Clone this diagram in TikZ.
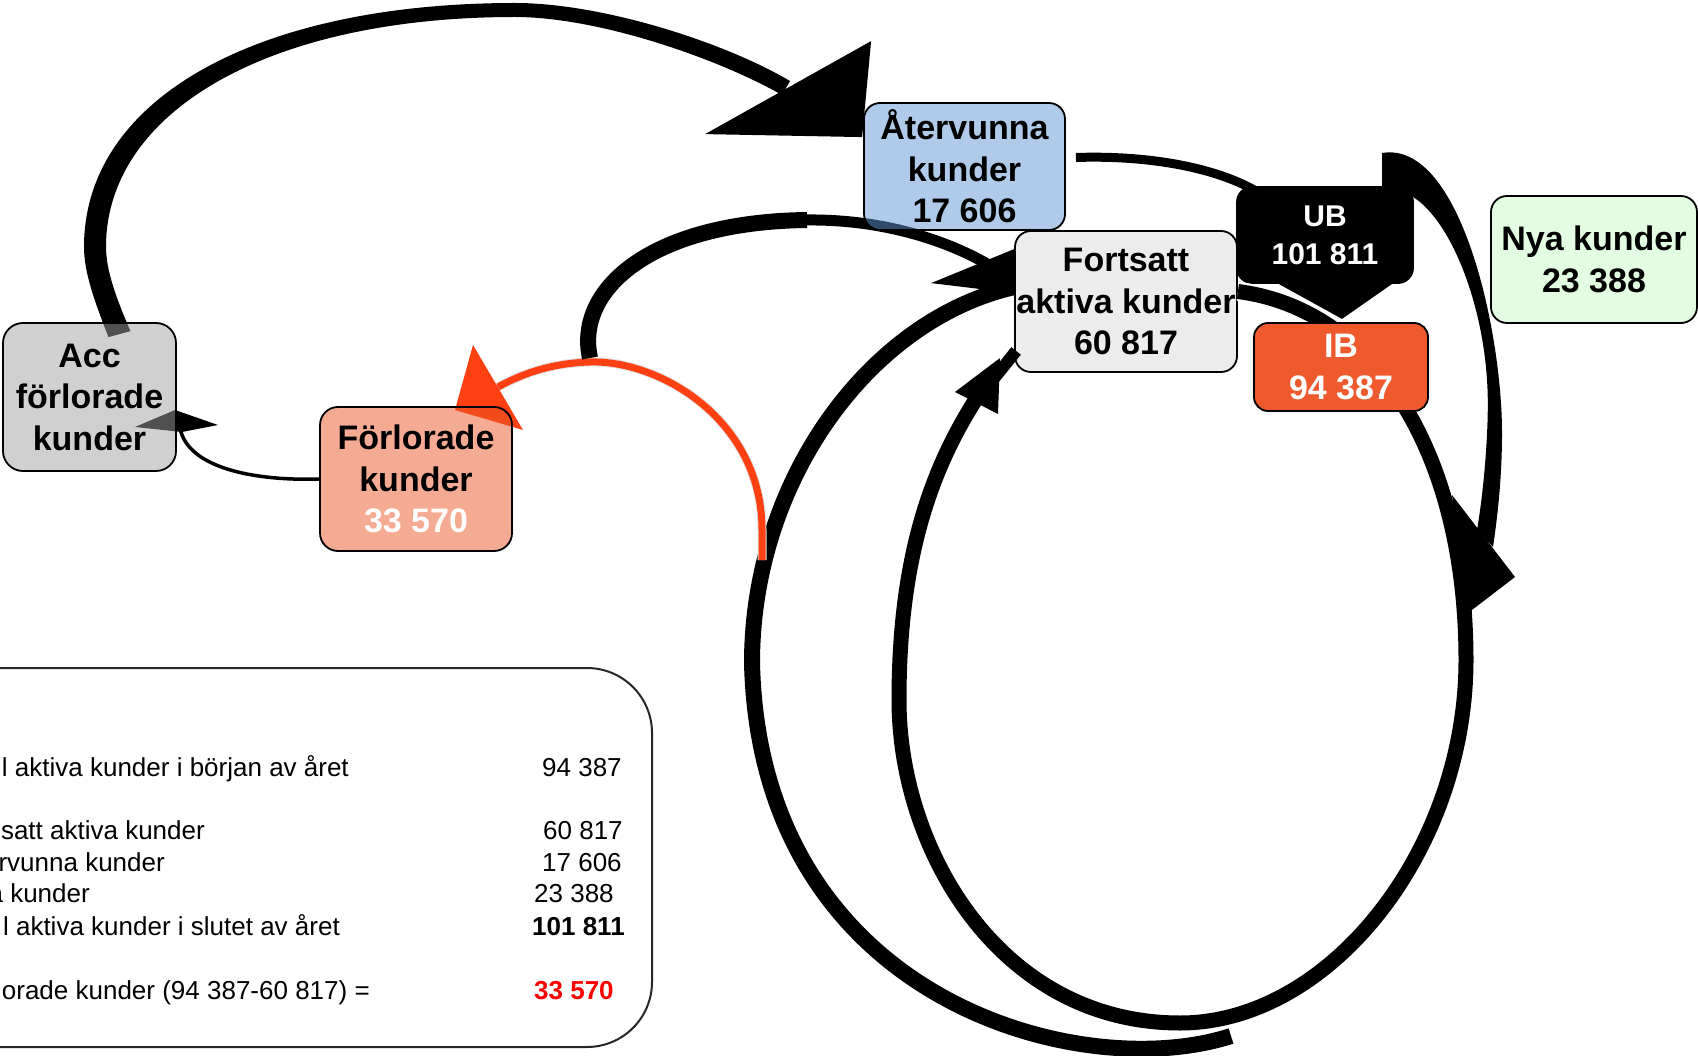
\documentclass[tikz,border=0pt]{standalone}
\usepackage{fontspec}
\setmainfont{Liberation Sans}
\usetikzlibrary{calc}
\pgfdeclarelayer{back}
\pgfsetlayers{back,main}
\definecolor{accfill}{RGB}{161,161,161}
\definecolor{aterfill}{RGB}{95,151,211}
\definecolor{forlfill}{RGB}{235,87,39}
\definecolor{fortfill}{RGB}{236,236,236}
\definecolor{ibfill}{RGB}{238,90,45}
\definecolor{nyafill}{RGB}{226,253,226}
\definecolor{redarc}{RGB}{255,64,19}
\begin{document}
\begin{tikzpicture}[x=1pt,y=-1pt,
  box/.style={draw=black, line width=1.8, rounded corners=16, inner sep=0pt, align=center,
              font=\bfseries\fontsize{34}{41.5}\selectfont},
  seethru/.style={fill opacity=0.5, text opacity=1},
  tabtxt/.style={inner sep=0pt, anchor=base east, font=\fontsize{26}{30}\selectfont},
  tabnum/.style={inner sep=0pt, anchor=base west, font=\fontsize{26}{30}\selectfont},
  tabbold/.style={tabnum, font=\bfseries\fontsize{26}{30}\selectfont},
  flow/.style={draw=black, line cap=butt, line join=round},
]
\useasboundingbox (0,0) rectangle (1698,1056);

% ---------- summary table ----------
\node[draw=black!85, line width=2, rounded corners=65, minimum width=752, minimum height=379, inner sep=0pt] (tbl) at (276,857.5) {};
\node[tabtxt] (t1) at (349,776.5) {l aktiva kunder i början av året};
\node[tabnum] (n1) at (542,776.5) {94 387};
\node[tabtxt] (t2) at (205,839.5) {satt aktiva kunder};
\node[tabnum] (n2) at (543,839.5) {60 817};
\node[tabtxt] (t3) at (165,871.5) {rvunna kunder};
\node[tabnum] (n3) at (542,871.5) {17 606};
\node[tabtxt] (t4) at (90,902.5) {a kunder};
\node[tabnum] (n4) at (534,902.5) {23 388};
\node[tabtxt] (t5) at (340,935.5) {l aktiva kunder i slutet av året};
\node[tabbold] (n5) at (532,935.5) {101 811};
\node[tabtxt] (t6) at (370,999.5) {orade kunder (94 387-60 817) =};
\node[tabbold, text=red] (n6) at (534,999.5) {33 570};

% ---------- boxes ----------
\node[box, seethru, fill=accfill, rounded corners=20, minimum width=173, minimum height=148] (acc) at (89.5,397) {Acc\\förlorade\\kunder};
\node[box, seethru, fill=forlfill, rounded corners=18, minimum width=192, minimum height=144] (forl) at (416,479) {Förlorade\\kunder\\\textcolor{white}{33 570}};
\node[box, seethru, fill=aterfill, minimum width=201, minimum height=127] (ater) at (964.5,166.5) {Återvunna\\kunder\\17 606};
\node[box, fill=fortfill, minimum width=222, minimum height=141] (fort) at (1126,301.5) {Fortsatt\\aktiva kunder\\60 817};
\node[box, fill=nyafill, minimum width=206, minimum height=127] (nya) at (1594,259.5) {Nya kunder\\23 388};
\node[box, fill=black, text=white, rounded corners=15, minimum width=176, minimum height=96,
      font=\bfseries\fontsize{30}{38}\selectfont] (ub) at (1325,235) {UB\\101 811};

% ---------- connectors behind the boxes ----------
\begin{pgfonlayer}{back}
  % Acc -> Återvunna (big tapered arc)
  \coordinate (a0) at ($(acc.north)+(30,12)$);
  \coordinate (a3) at (786,88);
  \fill ($(a0)+(-11,3)$) .. controls (94,300) and (84,272) .. (84,247)
        .. controls (84,98) and (258,3) .. (515,3)
        .. controls (602,3) and (724,42) .. ($(a3)+(4,-7)$)
        -- ($(a3)+(-4,7)$) .. controls (717,58) and (598,17) .. (515,17)
        .. controls (268,17) and (106,112) .. (106,247)
        .. controls (106,270) and (116,298) .. ($(a0)+(11,-3)$) -- cycle;
  \fill ($(ater.north west)+(-158,32)$) -- ($(ater.north west)+(8,-61)$) -- ($(ater.north west)+(-1,35)$) -- cycle;

  % Förlorade -> Acc (thin arc)
  \coordinate (b1) at (180,428);
  \draw[flow, line width=3.5] (forl.west) .. controls (260,481) and (188,470) .. (b1);
  \fill (135,427) -- (175,410) -- (218,425) -- (182,432) -- cycle;

  % outer loop
  \coordinate (o0) at (1231,1036);
  \coordinate (o1) at (752,663);
  \draw[flow, line width=16] (o0) .. controls (1080,1085) and (760,1000) .. (o1)
        .. controls (752,480) and (870,320) .. ($(fort.north west)+(0,57)$);

  % red arc -> Förlorade
  \coordinate (r0) at (762,560);
  \coordinate (r1) at (498,387);
  \draw[flow, draw=redarc, line width=7, preaction={draw=black!12, line width=9}]
     (r0) -- (762,530) .. controls (762,420) and (660,360) .. (590,362) .. controls (555,363) and (525,372) .. (r1);
  \fill[redarc] (473,345) -- (455,410) -- (523,430) -- cycle;

  % black arc -> Fortsatt (left)
  \coordinate (k0) at (590,358);
  \coordinate (k1) at (807,220);
  \coordinate (k2) at (1000,272);
  \draw[flow, line width=16] (k0) .. controls (575,290) and (650,222) .. (k1);
  \draw[flow, line width=11] (k1) .. controls (890,219) and (960,245) .. (k2);
  \fill ($(fort.north west)+(-83,53)$) -- ($(fort.north west)+(0,19)$) -- ($(fort.north west)+(0,63)$) -- cycle;

  % Återvunna -> UB
  \draw[flow, line width=9] ($(ater.east)+(10,-9)$) .. controls (1150,155) and (1220,168) .. ($(ub.north west)+(25,8)$);
\end{pgfonlayer}

% ---------- UB arrow part and thick arrow ----------
\fill ($(ub.south)+(-50,-2)$) -- ($(ub.south)+(70,-2)$) -- ($(ub.south)+(17,35)$) -- cycle;
\fill (1382,153) .. controls (1460,140) and (1502,330) .. (1502,433)
      .. controls (1502,480) and (1497,520) .. (1493,547)
      -- (1477,530) .. controls (1484,490) and (1490,420) .. (1487,380)
      .. controls (1482,300) and (1450,220) .. (1413,197) -- (1382,190) -- cycle;
\fill (1452,495) -- (1515,577) -- (1468,613) -- cycle;

% ---------- inner loop: Fortsatt -> IB -> around -> Fortsatt ----------
\coordinate (f0) at ($(fort.east)+(0,-10)$);
\coordinate (f1) at (1466,660);
\coordinate (f2) at (1180,1023);
\coordinate (f3) at (899,700);
\coordinate (f4) at (978,396);
\draw[line width=19, white] (f0) .. controls (1275,296) and (1305,308) .. (1335,330);
\draw[flow, line width=15] (f0) .. controls (1380,310) and (1466,460) .. (f1)
      .. controls (1466,850) and (1330,1023) .. (f2)
      .. controls (1000,1023) and (899,850) .. (f3)
      .. controls (899,560) and (930,470) .. (f4);
\fill (955,392) -- (1000,358) -- (998,414) -- cycle;
\draw[flow, line width=12] (988,386) -- ($(fort.south west)+(2,-22)$);

% ---------- IB ----------
\node[box, fill=ibfill, text=white, rounded corners=14, minimum width=174, minimum height=88] (ib) at (1341,367) {IB\\94 387};
\end{tikzpicture}
\end{document}
